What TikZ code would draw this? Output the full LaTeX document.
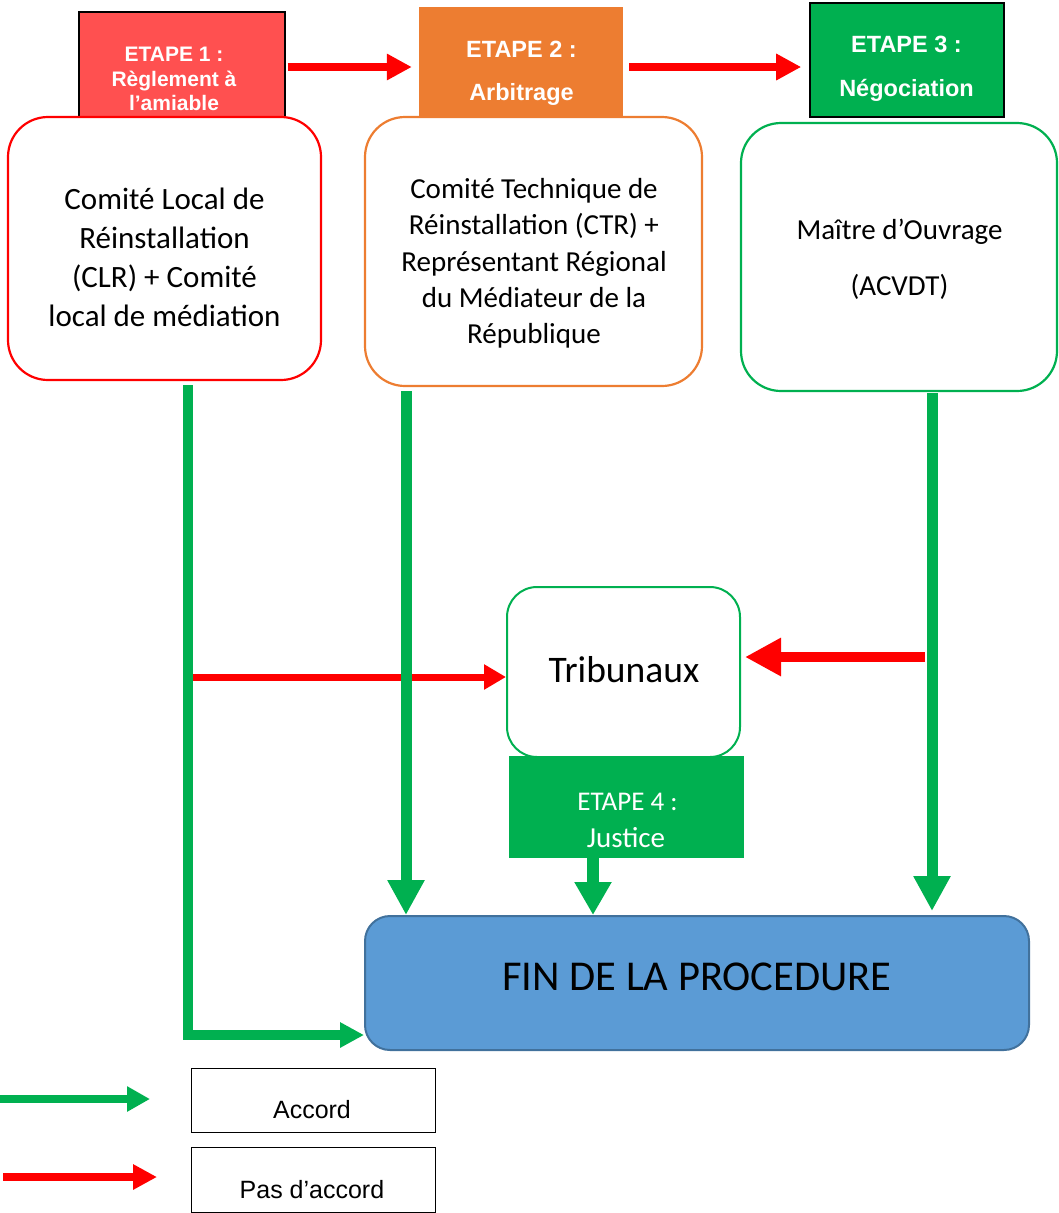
\documentclass[tikz,border=0pt]{standalone}
\usepackage{fontspec}
\setmainfont{Carlito}
\newfontfamily\arialf{Liberation Sans}
\usetikzlibrary{arrows.meta}
\definecolor{cRed}{HTML}{FF0000}
\definecolor{cGreen}{HTML}{00B050}
\definecolor{cOrange}{HTML}{ED7D31}
\definecolor{cSalmon}{HTML}{FF5050}
\definecolor{cBlue}{HTML}{5B9BD5}
\definecolor{cBlueD}{HTML}{41719C}
\begin{document}
\begin{tikzpicture}[x=1pt,y=-1pt,
  etbox/.style={inner sep=0pt, rectangle},
  rbox/.style={draw, fill=white, line width=2.2pt, rounded corners=40pt, inner sep=0pt},
  tx/.style={anchor=base, inner sep=0pt},
  wtx/.style={anchor=base, inner sep=0pt, text=white},
  redarr/.style={draw=cRed, line width=#1},
  greenarr/.style={draw=cGreen, line width=#1},
]
\path[use as bounding box] (0,0) rectangle (1059,1213);

% ---- step header boxes
\node[etbox, fill=cSalmon, draw=black, line width=1.2pt, minimum width=206pt, minimum height=105pt] (e1) at (182,64.5) {};
\node[etbox, fill=cOrange, minimum width=204pt, minimum height=109pt] (e2) at (521,61.5) {};
\node[etbox, fill=cGreen, draw=black, line width=1.6pt, minimum width=194pt, minimum height=114pt] (e3) at (907,60) {};

% ---- main rounded boxes
\node[rbox, draw=cRed, minimum width=313pt, minimum height=263pt] (clr) at (164.5,248.5) {};
\node[rbox, draw=cOrange, minimum width=337pt, minimum height=269pt] (ctr) at (533.5,251.5) {};
\node[rbox, draw=cGreen, minimum width=316pt, minimum height=268pt] (mo) at (899,257) {};
\node[rbox, draw=cGreen, rounded corners=30pt, line width=2pt, minimum width=233pt, minimum height=170pt] (trib) at (623.5,672) {};
\node[etbox, fill=cGreen, minimum width=235pt, minimum height=102pt] (e4) at (626.5,807) {};
\node[draw=cBlueD, fill=cBlue, line width=2pt, rounded corners=25pt, inner sep=0pt, minimum width=664pt, minimum height=134pt] (fin) at (697,983) {};

% ---- legend boxes
\node[draw=black, line width=1pt, inner sep=0pt, minimum width=244pt, minimum height=64pt] (lgA) at (313,1100) {};
\node[draw=black, line width=1pt, inner sep=0pt, minimum width=244pt, minimum height=65pt] (lgB) at (313,1179.5) {};

% ---- header texts
\begin{scope}[every node/.append style={font=\arialf\bfseries\fontsize{21}{25}\selectfont}]
\node[wtx] (e1a) at (174,61) {ETAPE 1 :};
\node[wtx] (e1b) at (174,86) {Règlement à};
\node[wtx] (e1c) at (174,110) {l’amiable};
\end{scope}
\begin{scope}[every node/.append style={font=\arialf\bfseries\fontsize{23.5}{28}\selectfont}]
\node[wtx] (e2a) at (521.5,57.5) {ETAPE 2 :};
\node[wtx] (e2b) at (521.5,100.5) {Arbitrage};
\node[wtx] (e3a) at (906.5,52) {ETAPE 3 :};
\node[wtx] (e3b) at (906.5,96) {Négociation};
\end{scope}

% ---- box texts
\begin{scope}[every node/.append style={font=\fontsize{31}{39}\selectfont}]
\node[tx] (c1) at (164.5,209) {Comité Local de};
\node[tx] (c2) at (164.5,248) {Réinstallation};
\node[tx] (c3) at (164.5,287) {(CLR) + Comité};
\node[tx] (c4) at (164.5,326) {local de médiation};
\end{scope}
\begin{scope}[every node/.append style={font=\fontsize{29}{36}\selectfont}]
\node[tx] (t1) at (534,198.2) {Comité Technique de};
\node[tx] (t2) at (534,234.6) {Réinstallation (CTR) +};
\node[tx] (t3) at (534,271) {Représentant Régional};
\node[tx] (t4) at (534,307.3) {du Médiateur de la};
\node[tx] (t5) at (534,343.7) {République};
\node[tx] (m1) at (899.5,239) {Maître d’Ouvrage};
\node[tx] (m2) at (899.5,295) {(ACVDT)};
\end{scope}
\node[tx, font=\fontsize{37.5}{44}\selectfont] (tr) at (624,682) {Tribunaux};
\node[wtx, font=\fontsize{27}{32}\selectfont] (e4a) at (627.5,810) {ETAPE 4 :};
\node[wtx, font=\fontsize{29}{34}\selectfont] (e4b) at (626,847) {Justice};
\node[tx, font=\fontsize{42.5}{48}\selectfont] (fint) at (697,990) {FIN DE LA PROCEDURE};
\node[tx, font=\arialf\fontsize{25}{30}\selectfont] (la) at (312,1118) {Accord};
\node[tx, font=\arialf\fontsize{25}{30}\selectfont] (lb) at (312,1198) {Pas d’accord};

% ---- coordinates
\coordinate (ry0) at (0,67);
\coordinate (gx1) at (188,0);
\coordinate (gy1) at (0,1035);
\coordinate (gx2) at (406,0);
\coordinate (gx3) at (932,0);
\coordinate (gx4) at (593,0);
\coordinate (ry1) at (193,677);
\coordinate (ry2) at (925,657);
\coordinate (lg1s) at (0,1099);
\coordinate (lg1e) at (150,1099);
\coordinate (lg2s) at (3,1177);
\coordinate (lg2e) at (157,1177);

% ---- red arrows
\draw[redarr=8.5pt, -{Triangle[length=25pt,width=25pt]}, shorten <=2pt, shorten >=7pt] (e1.east |- ry0) -- (e2.west |- ry0);
\draw[redarr=8.5pt, -{Triangle[length=25pt,width=25pt]}, shorten <=6pt, shorten >=8pt] (e2.east |- ry0) -- (e3.west |- ry0);
\draw[redarr=7pt, -{Triangle[length=22pt,width=24pt]}] (ry1) -- (trib.west |- ry1);
\draw[redarr=10pt, -{Triangle[length=36pt,width=36pt]}, shorten >=4pt] (ry2) -- (trib.east |- ry2);

% ---- green arrows
\draw[greenarr=10pt, -{Triangle[length=24pt,width=24pt]}, shorten <=4pt] (clr.south -| gx1) |- (fin.west |- gy1);
\draw[greenarr=11pt, -{Triangle[length=35pt,width=35pt]}, shorten <=4pt] (ctr.south -| gx2) -- (fin.north -| gx2);
\draw[greenarr=11pt, -{Triangle[length=35pt,width=35pt]}, shorten <=1pt, shorten >=4pt] (mo.south -| gx3) -- (fin.north -| gx3);
\draw[greenarr=12pt, -{Triangle[length=33pt,width=35pt]}] (e4.south -| gx4) -- (fin.north -| gx4);

% ---- legend arrows
\draw[greenarr=8pt, -{Triangle[length=23pt,width=24pt]}] (lg1s) -- (lg1e);
\draw[redarr=8pt, -{Triangle[length=24pt,width=24pt]}] (lg2s) -- (lg2e);
\end{tikzpicture}
\end{document}
